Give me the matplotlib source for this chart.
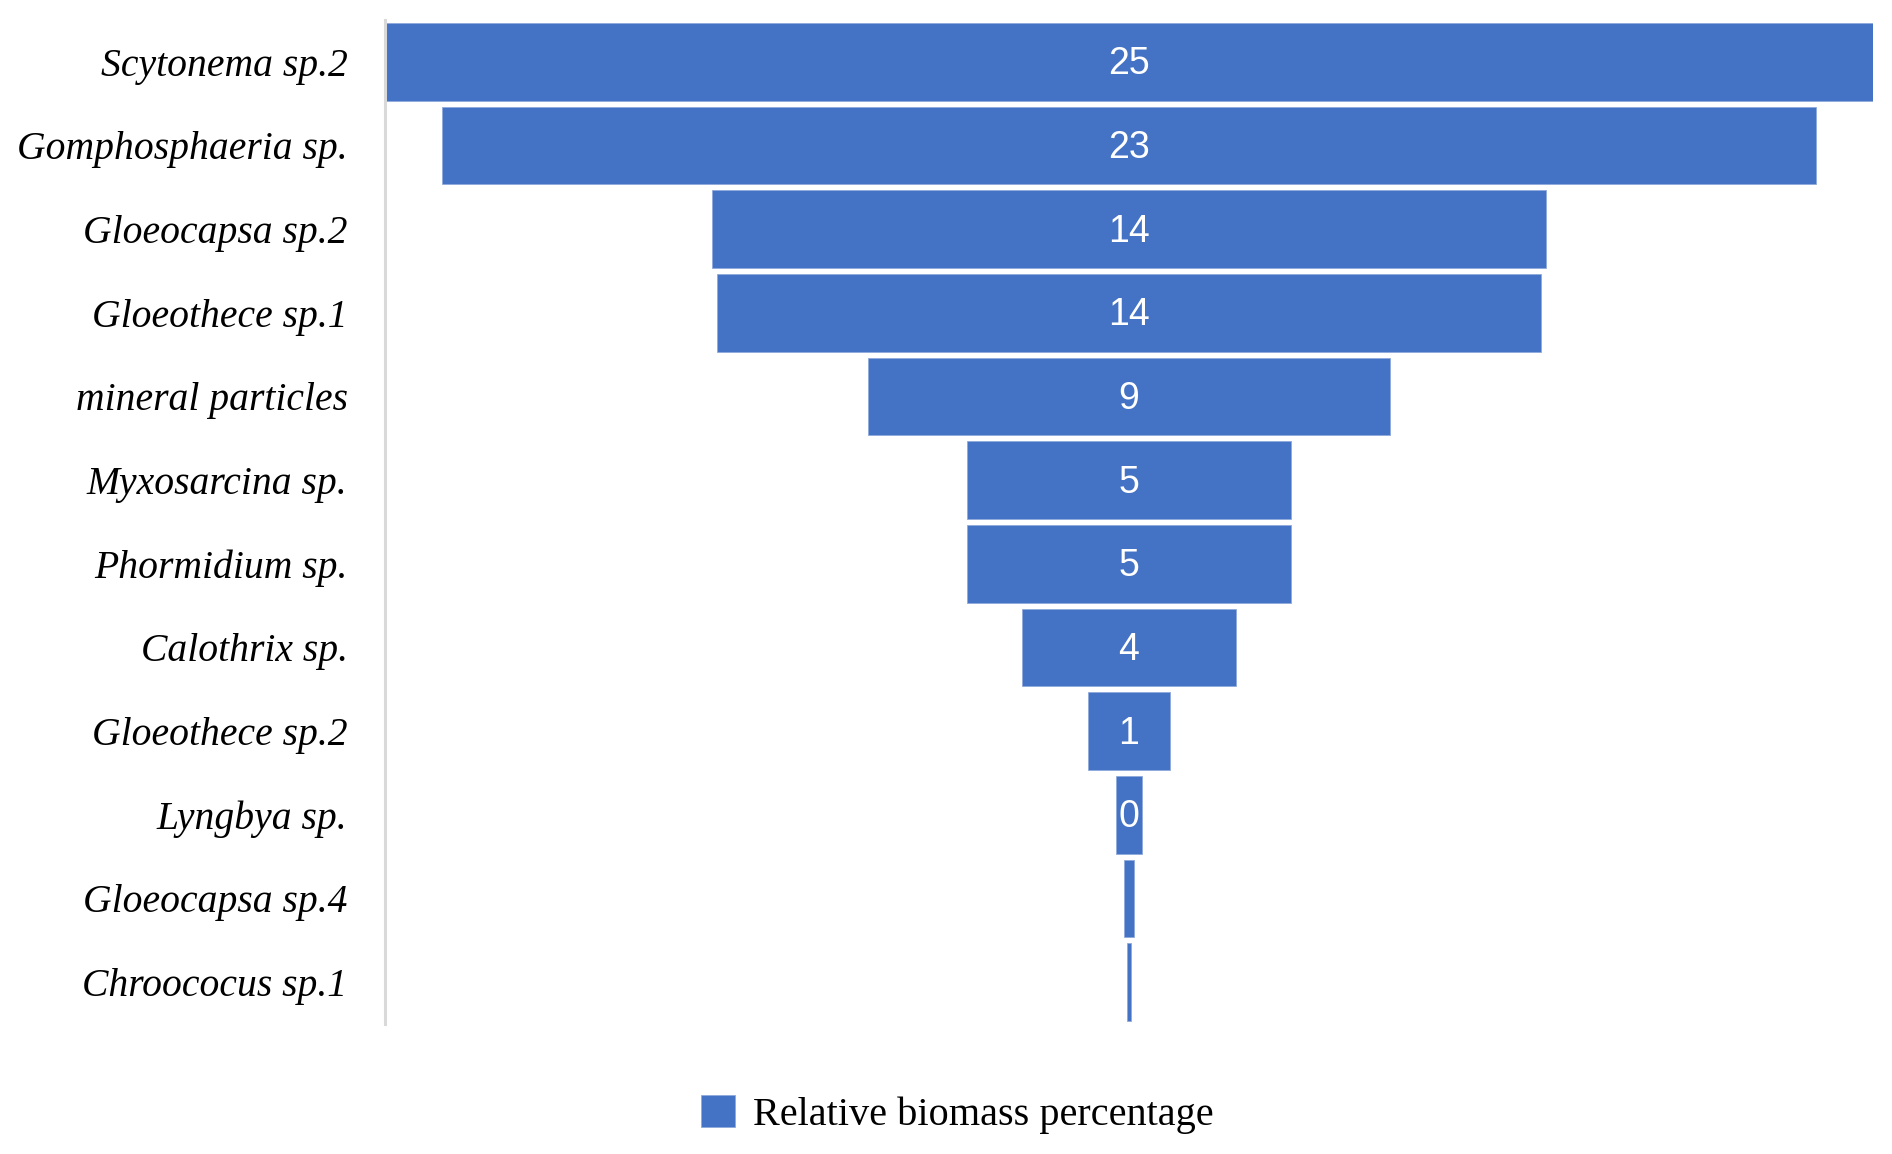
"""Funnel chart of relative biomass percentage per taxon."""

import matplotlib

matplotlib.use("Agg")

import matplotlib.pyplot as plt  # noqa: E402
from matplotlib.patches import Patch  # noqa: E402


# ---------------------------------------------------------------------------
# Data (top of funnel first)
# ---------------------------------------------------------------------------
TAXA = [
    "Scytonema sp.2",
    "Gomphosphaeria sp.",
    "Gloeocapsa sp.2",
    "Gloeothece sp.1",
    "mineral particles",
    "Myxosarcina sp.",
    "Phormidium sp.",
    "Calothrix sp.",
    "Gloeothece sp.2",
    "Lyngbya sp.",
    "Gloeocapsa sp.4",
    "Chroococus sp.1",
]
BIOMASS_PCT = [25.0, 23.07, 14.0, 13.83, 8.76, 5.45, 5.45, 3.6, 1.38, 0.45, 0.17, 0.08]
SHOW_LABEL = [True] * 10 + [False, False]

BAR_COLOR = "#4472C4"
SERIF = "Liberation Serif"
SANS = "Liberation Sans"


def main() -> None:
    fig = plt.figure(figsize=(18.92, 11.54), dpi=100)
    ax = fig.add_axes([0.2035, 0.1127, 0.7865, 0.87])

    positions = list(range(len(TAXA)))
    lefts = [-v / 2 for v in BIOMASS_PCT]
    ax.barh(
        positions,
        BIOMASS_PCT,
        left=lefts,
        height=0.93,
        color=BAR_COLOR,
        edgecolor="#8faadc",
        linewidth=0.6,
    )

    # value labels, nudged slightly down to sit like the original
    for pos, value, show in zip(positions, BIOMASS_PCT, SHOW_LABEL):
        if show:
            ax.text(
                0, pos + 0.03, f"{value:.0f}",
                ha="center", va="center", color="white",
                fontsize=27, family=SANS,
            )

    ax.set_xlim(-12.5, 12.5)
    ax.set_ylim(len(TAXA) - 0.5, -0.5)
    ax.set_yticks(positions)
    ax.set_yticklabels(TAXA, fontsize=28.5, family=SERIF, style="italic")
    ax.tick_params(axis="y", length=0, pad=27)
    ax.set_xticks([])

    for side in ("top", "right", "bottom"):
        ax.spines[side].set_visible(False)
    ax.spines["left"].set_color("#d9d9d9")
    ax.spines["left"].set_linewidth(2.2)

    handle = Patch(facecolor=BAR_COLOR, edgecolor="#8faadc", linewidth=0.6)
    fig.legend(
        [handle],
        ["Relative biomass percentage"],
        loc="center",
        bbox_to_anchor=(0.506, 0.034),
        frameon=False,
        prop={"family": SERIF, "size": 29},
        handlelength=0.85,
        handleheight=0.85,
        handletextpad=0.45,
    )

    fig.savefig("out.png", dpi=100)
    plt.close(fig)


if __name__ == "__main__":
    main()
